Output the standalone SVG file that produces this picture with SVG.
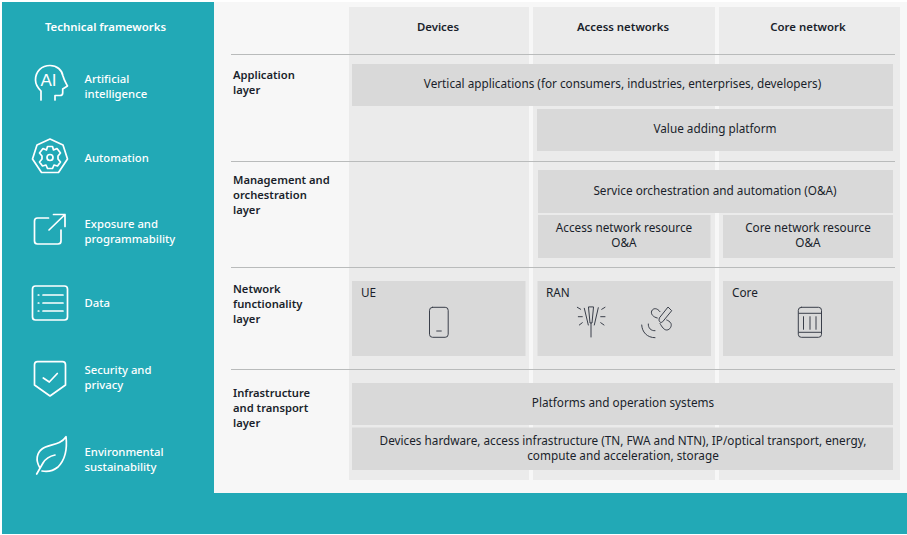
<svg xmlns="http://www.w3.org/2000/svg" width="907" height="535" viewBox="0 0 907 535">
<style>
text{font-family:"Noto Sans","Open Sans",sans-serif;font-size:11.75px;fill:#1a1f2b}
.m{font-weight:500;fill:#fff;font-size:11.3px}
.b{font-weight:600;font-size:11.2px}
.h{font-size:11.4px}
.c{text-anchor:middle}
.col{fill:#ebebeb}
.box{fill:#d9d9d9}
.ln{stroke:#b9bbbb;stroke-width:1.2;fill:none}
.ic{fill:none;stroke:#fff;stroke-width:1.7;stroke-linecap:round;stroke-linejoin:round}
.id{fill:none;stroke:#3a3f4a;stroke-width:1;stroke-linecap:round;stroke-linejoin:round}
</style>
<rect width="907" height="535" fill="#fff"/>
<rect x="2" y="2" width="212" height="532" fill="#22a9b6"/>
<rect x="2" y="493" width="905" height="41" fill="#22a9b6"/>
<rect x="214" y="2" width="693" height="491" fill="#f7f7f7"/>
<g id="columns">
<rect class="col" x="349" y="7" width="180" height="473"/>
<rect class="col" x="533" y="7" width="182" height="473"/>
<rect class="col" x="719" y="7" width="181" height="473"/>
<text class="b h c" x="438" y="30.500">Devices</text>
<text class="b h c" x="623" y="30.500">Access networks</text>
<text class="b h c" x="808" y="30.500">Core network</text>
</g>
<g id="connectors">
<path class="ln" d="M231 54.500H895M231 161.500H895M231 267.500H895M231 369.500H895"/>
</g>
<g id="sidebar-title"><text class="b h c" x="105.500" y="30.500" style="fill:#fff">Technical frameworks</text></g>
<g id="fw-ai">
<path class="ic" d="M41 100V91C37 87 35.500 84 35.500 80C35.500 71 42 65.500 50 65.500C57 65.500 62 70 63 76C64 80 66 83 67.500 86L62.700 89V93C62.700 95 61.500 95.500 60 95.500H55V100"/>
<text x="40.500" y="85.500" style="font-family:'Liberation Sans',sans-serif;font-size:17px;fill:#fff">AI</text>
<text class="m" x="84.500" y="82.500">Artificial</text><text class="m" x="84.500" y="97.500">intelligence</text>
</g>
<g id="fw-automation">
<path class="ic" d="M50 139L63 145L67.500 159L58.500 172.500H41.500L32.500 159L37 145Z"/>
<path class="ic" d="M47.500 146.500H52.500L53.500 150L57 148.500L60.500 153L58 156V159L60.500 162L57.500 166L54 165L52.500 168.500H47.500L46 165L42.500 166L39.500 162L42 159V156L39.500 153L43 148.500L46.500 150Z"/>
<circle class="ic" cx="50" cy="157.500" r="3"/>
<text class="m" x="84.500" y="161.500">Automation</text>
</g>
<g id="fw-exposure">
<path class="ic" d="M48.500 218H37.500C35 218 34.500 219 34.500 221V241C34.500 243.500 35.500 244 37.500 244H58C60.500 244 61 243 61 241V230"/>
<path class="ic" d="M49 230L65 214.500M53.500 214.500H65V226.500"/>
<text class="m" x="84.500" y="227.500">Exposure and</text><text class="m" x="84.500" y="242.500">programmability</text>
</g>
<g id="fw-data">
<rect class="ic" x="32.500" y="286" width="35" height="34" rx="3"/>
<path class="ic" d="M43 295H63M43 303H63M43 311H63M38.300 295H38.800M38.300 303H38.800M38.300 311H38.800"/>
<text class="m" x="84.500" y="306.500">Data</text>
</g>
<g id="fw-security">
<path class="ic" d="M37.500 361.700H62.500C64.500 361.700 65.500 362.700 65.500 364.700V385L50 396L34.500 385V364.700C34.500 362.700 35.500 361.700 37.500 361.700Z"/>
<path class="ic" d="M43.300 378L49.300 382L57.300 373.500"/>
<text class="m" x="84.500" y="373.500">Security and</text><text class="m" x="84.500" y="388.500">privacy</text>
</g>
<g id="fw-env">
<path class="ic" d="M36.700 474L43 463C46 458 50 456 55 455M40 468C35 460 37 453 42 449C48 444 60 446 66 436.700C67.500 450 65 460 58 467C53 471 47 472 42 471"/>
<text class="m" x="84.500" y="455.500">Environmental</text><text class="m" x="84.500" y="470.500">sustainability</text>
</g>
<g id="layer-labels">
<text class="b" x="233" y="78.500">Application</text><text class="b" x="233" y="93.500">layer</text>
<text class="b" x="233" y="183.500">Management and</text><text class="b" x="233" y="198.500">orchestration</text><text class="b" x="233" y="213.500">layer</text>
<text class="b" x="233" y="293">Network</text><text class="b" x="233" y="308">functionality</text><text class="b" x="233" y="323">layer</text>
<text class="b" x="233" y="397">Infrastructure</text><text class="b" x="233" y="412">and transport</text><text class="b" x="233" y="427">layer</text>
</g>
<g id="vertical-applications"><rect class="box" x="352" y="64" width="541" height="42"/><text class="c" x="622.500" y="88">Vertical applications (for consumers, industries, enterprises, developers)</text></g>
<g id="value-adding"><rect class="box" x="537" y="109" width="356" height="42"/><text class="c" x="715" y="133">Value adding platform</text></g>
<g id="service-oa"><rect class="box" x="538" y="170" width="355" height="43"/><text class="c" x="715" y="195">Service orchestration and automation (O&amp;A)</text></g>
<g id="access-oa"><rect class="box" x="538" y="215" width="172.500" height="43"/><text class="c" x="624" y="232">Access network resource</text><text class="c" x="624" y="247">O&amp;A</text></g>
<g id="core-oa"><rect class="box" x="723" y="215" width="170" height="43"/><text class="c" x="808" y="232">Core network resource</text><text class="c" x="808" y="247">O&amp;A</text></g>
<g id="ue"><rect class="box" x="352" y="281" width="173.500" height="75"/><text x="361" y="297">UE</text>
<rect class="id" x="429.500" y="307.300" width="18.700" height="30" rx="3"/><path class="id" d="M436.700 331H441.300"/></g>
<g id="ran"><rect class="box" x="537.500" y="281" width="173.500" height="75"/><text x="546" y="297">RAN</text>
<path class="id" d="M591 323V337M584.300 308.300L588.300 325M588.500 307.300L590 323H592L593.500 307.300ZM598.300 307.700L594.300 325"/>
<path class="id" d="M577.300 307.300L580.700 309.300M578.300 316.700H582.300M579.300 325L582.300 322.700M605 307.300L601.700 309.300M605 316.700H600.700M604 325L600.700 322.700"/>
<path class="id" d="M668.300 307.300L671.700 310.700L662.700 321.700C661.500 322.700 660.500 322.700 659.500 321.500C658.800 320.500 659 319.500 659.300 318.300ZM657.300 318C653 317 650.500 314 651.700 311C653 308 657 307.500 660 311.700M660 323.500C662 327 664 330 666.700 330C670 330 672 326 671 323.500C670 321.500 668 320.500 666.700 320M641.700 325C642 332 647 337.700 655 337.700M648.300 324C648 328 651 331 655 330.700"/></g>
<g id="core"><rect class="box" x="723" y="281" width="170" height="75"/><text x="732" y="297">Core</text>
<rect class="id" x="798.300" y="307.300" width="23.200" height="30" rx="3"/><path class="id" d="M799 313.300H821M799 332.300H821M803.500 316.700V329.300M810 316.700V329.300M816 316.700V329.300"/></g>
<g id="platforms"><rect class="box" x="352" y="383" width="541" height="42"/><text class="c" x="623" y="407">Platforms and operation systems</text></g>
<g id="hardware"><rect class="box" x="352" y="427.500" width="541" height="42.500"/><text class="c" x="623" y="445">Devices hardware, access infrastructure (TN, FWA and NTN), IP/optical transport, energy,</text><text class="c" x="623" y="460">compute and acceleration, storage</text></g>
</svg>
